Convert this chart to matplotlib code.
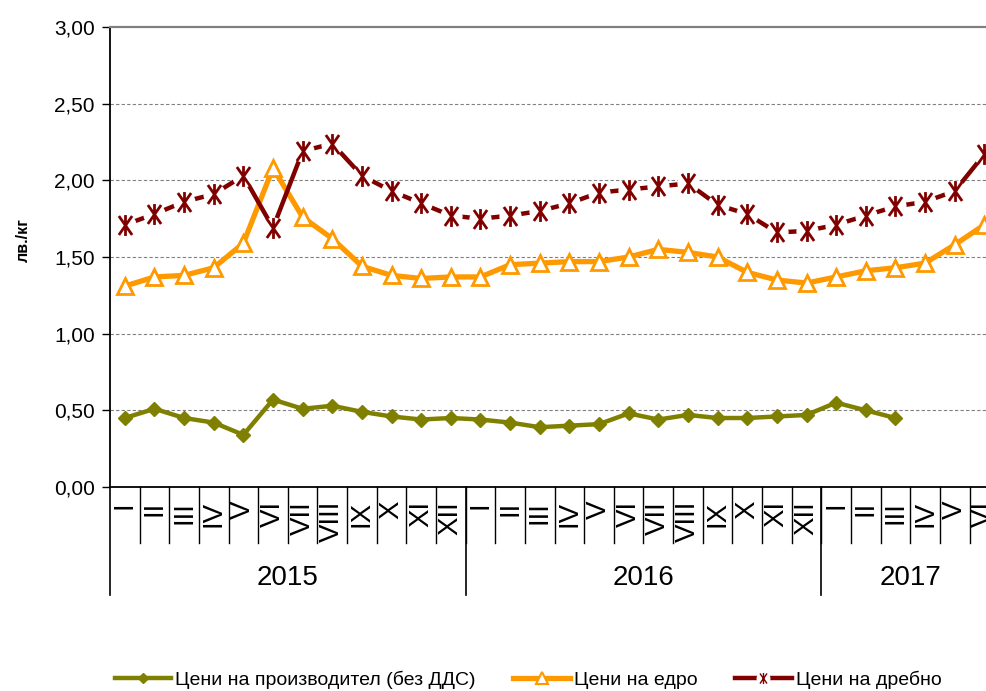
import matplotlib
matplotlib.use("Agg")
import matplotlib.pyplot as plt
from matplotlib import font_manager
from matplotlib.path import Path
from matplotlib.lines import Line2D
from matplotlib.legend_handler import HandlerTuple
import matplotlib.transforms as mtransforms

# --- data (лв./кг), monthly 2015 I .. 2017 VI ---
months = ["I", "II", "III", "IV", "V", "VI", "VII", "VIII", "IX", "X", "XI", "XII"]
month_labels = months + months + months[:6]
years = ["2015", "2016", "2017"]
year_lengths = [12, 12, 6]

producer = [0.45, 0.51, 0.45, 0.42, 0.34, 0.57, 0.51, 0.53, 0.49, 0.46, 0.44, 0.45,
            0.44, 0.42, 0.39, 0.40, 0.41, 0.48, 0.44, 0.47, 0.45, 0.45, 0.46, 0.47,
            0.55, 0.50, 0.45]
wholesale = [1.31, 1.37, 1.38, 1.43, 1.59, 2.08, 1.76, 1.62, 1.44, 1.38, 1.36, 1.37,
             1.37, 1.45, 1.46, 1.47, 1.47, 1.50, 1.55, 1.53, 1.50, 1.40, 1.35, 1.33,
             1.37, 1.41, 1.43, 1.46, 1.58, 1.71]
retail = [1.71, 1.78, 1.86, 1.91, 2.03, 1.69, 2.19, 2.24, 2.03, 1.93, 1.85, 1.77,
          1.75, 1.77, 1.80, 1.85, 1.92, 1.94, 1.96, 1.98, 1.84, 1.78, 1.66, 1.67,
          1.71, 1.77, 1.83, 1.86, 1.93, 2.17]

names = ["Цени на производител (без ДДС)", "Цени на едро", "Цени на дребно"]
yticks = [0, 0.5, 1.0, 1.5, 2.0, 2.5, 3.0]

# fonts: regular + narrow (falls back to regular if narrow isn't installed)
_avail = {f.name for f in font_manager.fontManager.ttflist}
REG = "Liberation Sans"
NARROW = "Liberation Sans Narrow" if "Liberation Sans Narrow" in _avail else REG
plt.rcParams["font.family"] = [REG, "DejaVu Sans"]

OLIVE, ORANGE, DRED = "#808000", "#FF9900", "#800000"

fig = plt.figure(figsize=(9.87, 6.91), dpi=100)
ax = fig.add_axes([110 / 987, 1 - 487 / 691, 1 - 110 / 987, 460 / 691])

x_all = list(range(len(month_labels)))

# grid
for v in yticks[1:-1]:
    ax.axhline(v, color="#808080", lw=0.8, ls=(0, (3, 2)), zorder=0)

ax.plot(x_all[:len(producer)], producer, color=OLIVE, lw=3.2, marker="D",
        ms=7, mfc=OLIVE, mec=OLIVE, zorder=3)
ax.plot(x_all, wholesale, color=ORANGE, lw=3.8, marker="^", ms=11,
        mfc="white", mec=ORANGE, mew=2, zorder=4)

# retail: solid line, marker sits on a white patch (gap around each star)
star = Path([(-0.7, -1), (0.7, 1), (-0.7, 1), (0.7, -1), (0, -1.1), (0, 1.1)],
            [Path.MOVETO, Path.LINETO, Path.MOVETO, Path.LINETO, Path.MOVETO, Path.LINETO])
ax.plot(x_all, retail, color=DRED, lw=3.2, zorder=5)
ax.plot(x_all, retail, ls="none", marker="o", ms=15, mfc="white",
        mec="white", zorder=6)
ax.plot(x_all, retail, ls="none", marker=star, ms=15, mfc="none",
        mec=DRED, mew=2, zorder=7)

ax.set_ylim(0, 3)
ax.set_xlim(-0.5, 29.09)
ax.set_yticks(yticks)
ax.set_yticklabels([f"{v:.2f}".replace(".", ",") for v in yticks], fontsize=15)
ax.tick_params(axis="y", direction="out", length=6, width=1, pad=5)

ax.set_xticks(x_all)
ax.set_xticklabels(month_labels, rotation=90, fontsize=20, family=NARROW)
ax.tick_params(axis="x", length=0, pad=10)

ax.spines["right"].set_visible(False)
ax.spines["top"].set_color("#808080")
ax.spines["top"].set_linewidth(1.6)
ax.spines["left"].set_linewidth(1.3)
ax.spines["bottom"].set_linewidth(1.3)

# multi-level category axis
trans = mtransforms.blended_transform_factory(ax.transData, ax.transAxes)
month_depth = -(543 - 487) / 460
year_depth = -(595 - 487) / 460
start = 0
year_edges = [-0.5]
for n in year_lengths:
    start += n
    year_edges.append(start - 0.5)
for i in range(1, len(month_labels) + 1):
    ax.plot([i - 0.5, i - 0.5], [0, month_depth], color="black", lw=1,
            transform=trans, clip_on=False)
for e in year_edges:
    ax.plot([e, e], [0, year_depth], color="black", lw=1.2,
            transform=trans, clip_on=False)
for y, a, b in zip(years, year_edges[:-1], year_edges[1:]):
    ax.text((a + b) / 2, -(578 - 487) / 460, y, transform=trans, ha="center",
            va="center", fontsize=20, family=NARROW)

fig.text(23 / 987, 1 - 240 / 691, "лв./кг", rotation=90, ha="center", va="center",
         fontsize=11.5, fontweight="bold")

handles = [
    Line2D([], [], color=OLIVE, lw=3.2, marker="D", ms=5, mfc=OLIVE, mec=OLIVE),
    Line2D([], [], color=ORANGE, lw=3.8, marker="^", ms=8, mfc="white", mec=ORANGE, mew=1.5),
    (Line2D([], [], color=DRED, lw=3.2),
     Line2D([], [], ls="none", marker="o", ms=9, mfc="white", mec="white"),
     Line2D([], [], ls="none", marker=star, ms=8, mfc="none", mec=DRED, mew=1.0)),
]
fig.legend(handles, names, loc="center", bbox_to_anchor=(0.535, 1 - 680 / 691),
           ncol=3, frameon=False, handlelength=2.9, handletextpad=0.2,
           columnspacing=1.95, prop={"family": NARROW, "size": 14},
           handler_map={tuple: HandlerTuple(ndivide=1)})

fig.savefig("out.png", dpi=100)
